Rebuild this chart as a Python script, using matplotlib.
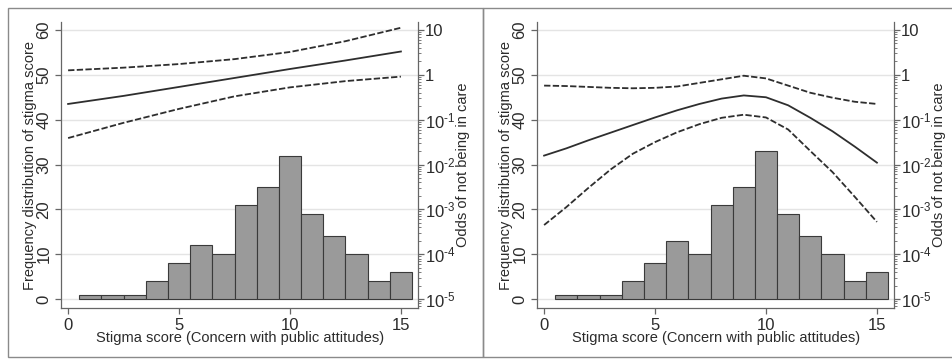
import matplotlib
matplotlib.use("Agg")
import matplotlib.pyplot as plt
from matplotlib.patches import Rectangle
from matplotlib.ticker import FixedLocator, FixedFormatter, LogLocator, NullFormatter

plt.rcParams['font.family'] = ['Liberation Sans', 'DejaVu Sans']
plt.rcParams['mathtext.fontset'] = 'custom'
plt.rcParams['mathtext.rm'] = 'Liberation Sans'
plt.rcParams['mathtext.it'] = 'Liberation Sans:italic'
plt.rcParams['mathtext.default'] = 'regular'

# ---------------- data ----------------
bin_centers = [1, 2, 3, 4, 5, 6, 7, 8, 9, 10, 11, 12, 13, 14, 15]
freq_left = [1, 1, 1, 4, 8, 12, 10, 21, 25, 32, 19, 14, 10, 4, 6]
freq_right = [1, 1, 1, 4, 8, 13, 10, 21, 25, 33, 19, 14, 10, 4, 6]

x_left = [0, 2.5, 5, 7.5, 10, 12.5, 15]
odds_left = [0.224, 0.339, 0.537, 0.851, 1.349, 2.089, 3.311]
upper_left = [1.259, 1.445, 1.738, 2.239, 3.236, 5.623, 11.22]
lower_left = [0.0389, 0.0851, 0.174, 0.331, 0.525, 0.724, 0.912]

x_right = [0, 1, 2, 3, 4, 5, 6, 7, 8, 9, 10, 11, 12, 13, 14, 15]
odds_right = [0.0158, 0.0229, 0.0347, 0.0513, 0.0759, 0.112, 0.162, 0.224,
              0.295, 0.347, 0.316, 0.209, 0.110, 0.0550, 0.0251, 0.0110]
upper_right = [0.575, 0.562, 0.537, 0.513, 0.501, 0.513, 0.550, 0.661,
               0.794, 0.955, 0.832, 0.575, 0.398, 0.309, 0.251, 0.224]
lower_right = [4.47e-4, 1.12e-3, 3.02e-3, 7.76e-3, 0.0174, 0.0316, 0.0525, 0.0794,
               0.110, 0.129, 0.112, 0.0603, 0.0200, 6.76e-3, 1.91e-3, 5.25e-4]

x_ticks = [0, 5, 10, 15]
freq_ticks = [0, 10, 20, 30, 40, 50, 60]
odds_ticks = [1e-5, 1e-4, 1e-3, 1e-2, 1e-1, 1, 10]
odds_tick_labels = [r'$10^{\text{-}5}$', r'$10^{\text{-}4}$', r'$10^{\text{-}3}$',
                    r'$10^{\text{-}2}$', r'$10^{\text{-}1}$', '1', '10']

xlabel = 'Stigma score (Concern with public attitudes)'
ylabel = 'Frequency distribution of stigma score'
y2label = 'Odds of not being in care'

# ---------------- style ----------------
W, H = 952, 360
fig = plt.figure(figsize=(W / 100, H / 100), dpi=100)
fig.patch.set_facecolor('white')

txt = '#2b2b2b'
axc = '#666666'
gridc = '#e4e4e4'
barc = '#9a9a9a'
linec = '#2e2e2e'
framec = '#8a8a8a'

# panel frames
fig.add_artist(Rectangle((8 / W, 3 / H), 475 / W, 349 / H, transform=fig.transFigure,
                         fill=False, edgecolor=framec, linewidth=1.0))
fig.add_artist(Rectangle((483 / W, 3 / H), 480 / W, 349 / H, transform=fig.transFigure,
                         fill=False, edgecolor=framec, linewidth=1.0))

AX_W, AX_H = 357, 286


def panel(x0, freq, xs, mid, up, lo):
    ax = fig.add_axes([x0 / W, 52 / H, AX_W / W, AX_H / H])
    ax.set_facecolor('none')
    ax.bar(bin_centers, freq, width=1.0, color=barc, edgecolor='#3a3a3a',
           linewidth=0.8, zorder=2)
    ax.set_xlim(-0.32, 15.77)
    ax.set_ylim(-2.0, 61.8)
    ax.set_axisbelow(True)
    ax.yaxis.set_major_locator(FixedLocator(freq_ticks))
    ax.xaxis.set_major_locator(FixedLocator(x_ticks))
    ax.grid(axis='y', color=gridc, linewidth=1.0)
    for s in ['top', 'right']:
        ax.spines[s].set_visible(False)
    for s in ['left', 'bottom']:
        ax.spines[s].set_color(axc)
        ax.spines[s].set_linewidth(0.9)
    ax.tick_params(axis='both', colors=axc, labelcolor=txt, labelsize=12,
                   length=4, width=0.9, pad=3)
    ax.tick_params(axis='y', labelrotation=90, pad=3)
    for lab in ax.get_yticklabels():
        lab.set_va('center')
    ax.set_xlabel(xlabel, fontsize=10.5, color=txt)
    ax.xaxis.set_label_coords(0.501, -34 / AX_H)
    ax.xaxis.label.set_va('baseline')
    ax.set_ylabel(ylabel, fontsize=10.5, color=txt)
    ax.yaxis.set_label_coords(-31 / AX_W, 0.5)
    ax.yaxis.label.set_va('center')
    ax.yaxis.label.set_ha('center')

    ax2 = ax.twinx()
    ax2.set_yscale('log')
    ax2.set_ylim(10 ** -5.2, 10 ** 1.178)
    ax2.yaxis.set_major_locator(FixedLocator(odds_ticks))
    ax2.yaxis.set_major_formatter(FixedFormatter(odds_tick_labels))
    ax2.yaxis.set_minor_locator(LogLocator(base=10, subs=range(2, 10), numticks=20))
    ax2.yaxis.set_minor_formatter(NullFormatter())
    for s in ['top', 'left', 'bottom']:
        ax2.spines[s].set_visible(False)
    ax2.spines['right'].set_color(axc)
    ax2.spines['right'].set_linewidth(0.9)
    ax2.tick_params(axis='y', which='major', colors=axc, labelcolor=txt,
                    labelsize=12, length=4, width=0.9, pad=1)
    ax2.tick_params(axis='y', which='minor', colors=axc, length=2, width=0.6)
    ax2.set_ylabel(y2label, fontsize=10.5, color=txt)
    ax2.yaxis.set_label_coords(402 / AX_W, 0.5)
    ax2.yaxis.label.set_va('center')
    ax2.yaxis.label.set_ha('center')

    ax2.plot(xs, mid, color=linec, linewidth=1.3, solid_joinstyle='round')
    ax2.plot(xs, up, color=linec, linewidth=1.3, linestyle=(0, (3.5, 1.3)))
    ax2.plot(xs, lo, color=linec, linewidth=1.3, linestyle=(0, (3.5, 1.3)))
    return ax, ax2


panel(61, freq_left, x_left, odds_left, upper_left, lower_left)
panel(537, freq_right, x_right, odds_right, upper_right, lower_right)

fig.savefig('out.png', dpi=100, facecolor='white')
